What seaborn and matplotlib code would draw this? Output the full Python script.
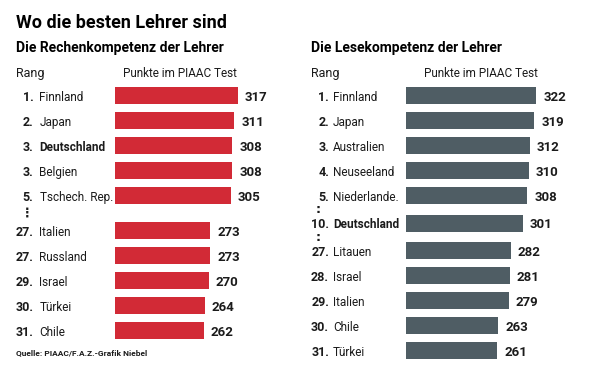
import numpy as np
import pandas as pd
import seaborn as sns
import matplotlib.pyplot as plt
from matplotlib.transforms import blended_transform_factory

# data
math_rank = ['1.', '2.', '3.', '3.', '5.', '27.', '27.', '29.', '30.', '31.']
math_country = ['Finnland', 'Japan', 'Deutschland', 'Belgien', 'Tschech. Rep.',
                'Italien', 'Russland', 'Israel', 'Türkei', 'Chile']
math_points = [317, 311, 308, 308, 305, 273, 273, 270, 264, 262]

read_rank = ['1.', '2.', '3.', '4.', '5.', '10.', '27.', '28.', '29.', '30.', '31.']
read_country = ['Finnland', 'Japan', 'Australien', 'Neuseeland', 'Niederlande.',
                'Deutschland', 'Litauen', 'Israel', 'Italien', 'Chile', 'Türkei']
read_points = [322, 319, 312, 310, 308, 301, 282, 281, 279, 263, 261]

RED = '#d22a36'
GREY = '#4f5d64'
INK = '#1b1b1b'

sns.set_style('white')
FONT = ['Roboto', 'DejaVu Sans']
plt.rcParams['font.family'] = FONT

W, H = 610, 384
fig = plt.figure(figsize=(W / 100, H / 100), dpi=100)
fig.patch.set_facecolor('white')


def fx(px):
    return px / W


def fy(py):
    return 1 - py / H


def px_axes(left, top, right, bottom):
    return fig.add_axes([fx(left), fy(bottom), (right - left) / W, (bottom - top) / H])


def panel(rect, x0, scale, row0, ranks, countries, points, color, gaps,
          rank_x, name_x, gap_mark, mark_x):
    idx = np.arange(len(points))
    pos = idx.astype(float)
    for after, extra in gaps:
        pos = pos + np.where(idx > after, extra, 0.0)
    df = pd.DataFrame({'pos': pos, 'points': points})

    ax = px_axes(*rect)
    sns.barplot(data=df, x='points', y='pos', orient='h', native_scale=True,
                color=color, saturation=1, width=0.68, linewidth=0, ax=ax)
    left, top, right, bottom = rect
    ax.set_xlim(x0, x0 + (right - left) / scale)
    ax.set_ylim((bottom - row0) / 25, (top - row0) / 25)
    ax.set_axis_off()

    for p, v in zip(pos, points):
        ax.annotate(str(v), (v, p), xytext=(5, 0), textcoords='offset points',
                    ha='left', va='center_baseline', fontsize=9.5,
                    fontweight='bold', color=INK)

    tr = blended_transform_factory(fig.transFigure, ax.transData)
    for p, r, c in zip(pos, ranks, countries):
        fig.text(fx(rank_x), p, r, transform=tr, ha='right', va='center_baseline',
                 fontsize=9, fontweight='bold', color=INK)
        fig.text(fx(name_x), p, c, transform=tr, ha='left', va='center_baseline',
                 fontsize=8.5, color=INK,
                 fontweight='bold' if c == 'Deutschland' else 'normal')

    # dots marking the skipped ranks
    for after, _ in gaps:
        mid = (pos[after] + pos[after + 1]) / 2
        fig.text(fx(mark_x), mid, gap_mark, transform=tr, ha='center', va='center',
                 fontsize=9, fontweight='bold', color=INK,
                 family=['DejaVu Sans'])


# left panel: Rechenkompetenz
panel((115, 80, 295, 362), 121, 0.628, 95.7, math_rank, math_country, math_points,
      RED, [(4, 0.4)], 33.5, 39.5, '⋮', 27.5)
# right panel: Lesekompetenz
panel((405.7, 80, 600, 362), 118, 0.64, 95.8, read_rank, read_country, read_points,
      GREY, [(4, 0.1), (5, 0.1)], 329, 333, ':', 318)

fig.text(fx(16), fy(28.3), 'Wo die besten Lehrer sind', fontsize=13,
         fontweight='bold', color='black', va='baseline')
fig.text(fx(16), fy(51.7), 'Die Rechenkompetenz der Lehrer', fontsize=10,
         fontweight='bold', color='black', va='baseline')
fig.text(fx(311), fy(51.7), 'Die Lesekompetenz der Lehrer', fontsize=10,
         fontweight='bold', color='black', va='baseline')

for rx, px_end in [(16, 237), (311, 538)]:
    fig.text(fx(rx), fy(77), 'Rang', fontsize=9, color=INK, va='baseline')
    fig.text(fx(px_end), fy(77), 'Punkte im PIAAC Test', fontsize=8.5, color=INK,
             va='baseline', ha='right')

fig.text(fx(16), fy(355), 'Quelle: PIAAC/F.A.Z.-Grafik Niebel', fontsize=6,
         fontweight='bold', color=INK, va='baseline')

fig.savefig('out.png', dpi=100, facecolor='white')
